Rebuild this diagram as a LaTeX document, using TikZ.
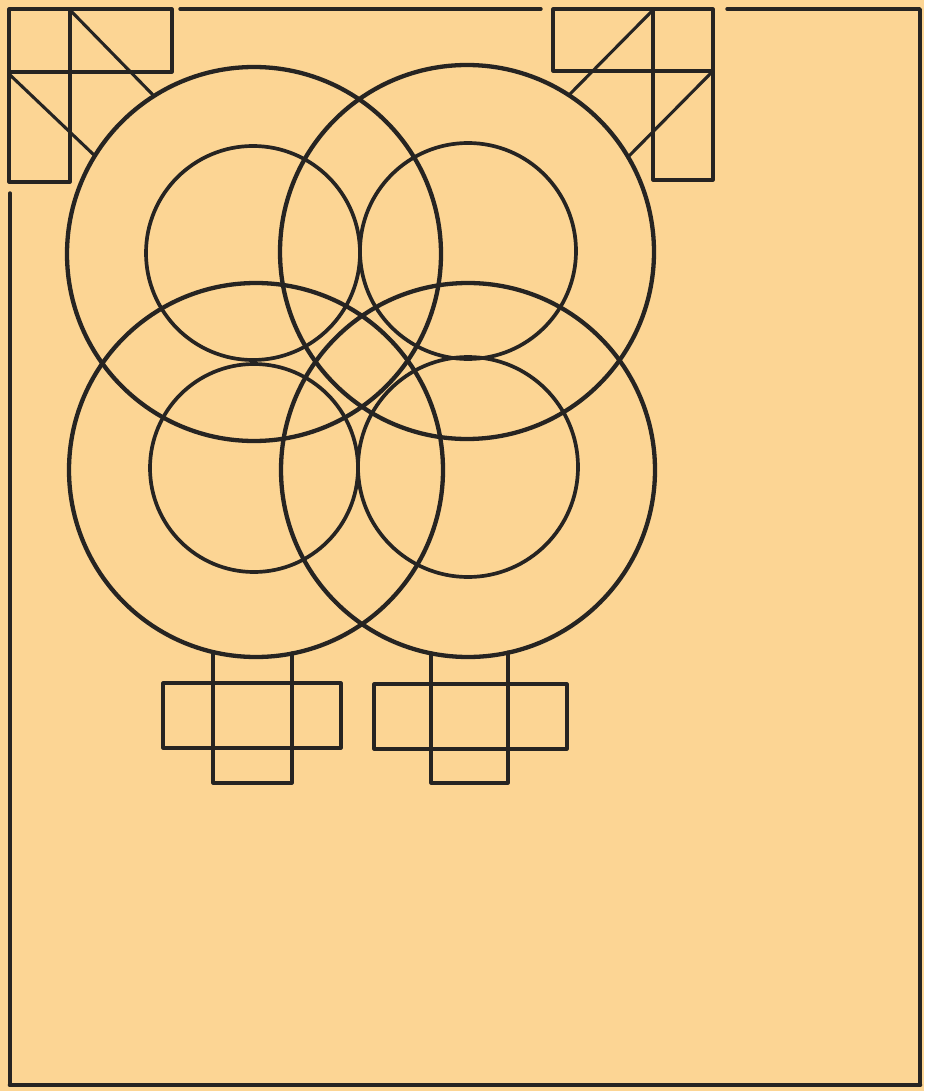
\documentclass[tikz,border=0pt]{standalone}
\usepackage{xcolor}
\definecolor{paper}{RGB}{252,213,148}
\definecolor{ink}{RGB}{38,36,34}
\begin{document}
\begin{tikzpicture}[x=1pt,y=-1pt,
  bigring/.style={draw=ink,line width=4.3pt},
  smallring/.style={draw=ink,line width=3.7pt},
  frameline/.style={draw=ink,line width=3.4pt,line cap=round,line join=round},
  boxline/.style={draw=ink,line width=3.1pt,line join=round,line cap=round}]
\fill[paper] (0,0) rectangle (924,1091);
\useasboundingbox (0,0) rectangle (924,1091);
% frame
\draw[frameline] (180,9) -- (541,9);
\draw[frameline] (727,9) -- (920,9) -- (920,1084);
\draw[draw=ink,line width=4.6pt,line cap=round] (920,1085) -- (10,1085);
\draw[frameline] (10,1085) -- (10,193);
% top-left motif
\draw[boxline] (9,9) rectangle (172,72);
\draw[boxline] (9,72) -- (9,182) -- (70,182) -- (70,9);
\draw[boxline] (70,10) -- (154,96);
\draw[boxline] (9,74) -- (94,155);
% top-right motif
\draw[boxline] (553,9) rectangle (713,71);
\draw[boxline] (713,71) -- (713,180) -- (653,180) -- (653,9);
\draw[boxline] (653,10) -- (569,95);
\draw[boxline] (713,71) -- (628,157);
% bottom-left cross
\draw[boxline] (163,683) rectangle (341,748);
\draw[boxline] (213,652) -- (213,783) -- (292,783) -- (292,653);
% bottom-right cross
\draw[boxline] (374,684) rectangle (567,749);
\draw[boxline] (431,653) -- (431,783) -- (508,783) -- (508,652);
% big circles
\draw[bigring] (254,254) circle[radius=187];
\draw[bigring] (467,252) circle[radius=187];
\draw[bigring] (256,470) circle[radius=187];
\draw[bigring] (468,470) circle[radius=187];
% inner circles
\draw[smallring] (253,253) circle[radius=107];
\draw[smallring] (468,251) circle[radius=108];
\draw[smallring] (254,468) circle[radius=104];
\draw[smallring] (468,467) circle[radius=110];
\end{tikzpicture}
\end{document}
